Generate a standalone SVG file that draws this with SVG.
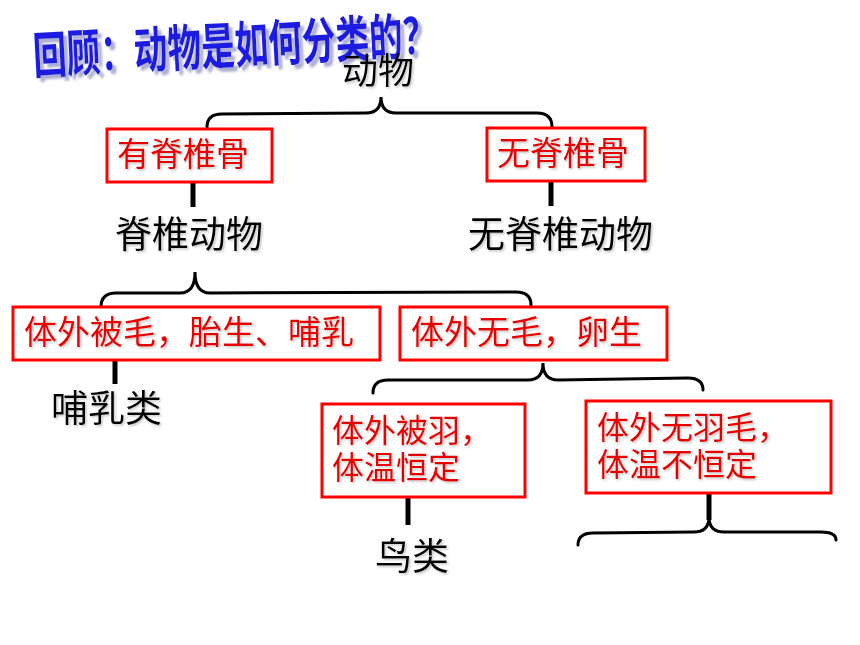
<svg xmlns="http://www.w3.org/2000/svg" width="860" height="645" viewBox="0 0 860 645">
<defs>
<style>
.box{fill:#fff;stroke:#ff0000;stroke-width:3}
.rt{fill:#e60000;font-family:"Noto Sans CJK SC","Noto Sans",sans-serif;font-size:32px}
.bt{fill:#000;font-family:"Noto Sans CJK SC","Noto Sans",sans-serif;font-size:37px}
.stem{stroke:#000;stroke-width:5;fill:none}
.brace{stroke:#000;stroke-width:3;fill:none;stroke-linecap:round}
.title{fill:#1c1ce0;font-family:"Noto Sans CJK SC","Noto Sans",sans-serif;font-weight:bold;font-size:33px}
</style>
<filter id="sh" x="-10%" y="-30%" width="125%" height="170%">
<feDropShadow dx="1.5" dy="1.5" stdDeviation="1" flood-color="#888" flood-opacity="0.5"/>
</filter>
<filter id="tsh" filterUnits="userSpaceOnUse" x="0" y="0" width="860" height="120">
<feDropShadow dx="4" dy="4" stdDeviation="1" flood-color="#9a9ac8" flood-opacity="0.8"/>
</filter>
</defs>
<rect width="860" height="645" fill="#fff"/>

<g id="title" filter="url(#tsh)">
<text class="title" transform="translate(34,74) rotate(-3) scale(1.02,1.52)">回顾：动物是如何分类的？</text>
</g>

<g id="connectors">
<path class="brace" d="M207,127 Q207,114 222,114 L366,113 Q381,113 381,97 Q381,113 396,113 L537,113 Q552,113 552,127"/>
<path class="brace" d="M101,307 Q101,293 116,293 L180,293 Q195,293 195,272 Q195,293 210,293 L516,292 Q531,292 531,305"/>
<path class="brace" d="M373,393 Q373,380 388,380 L528,380 Q543,380 543,363 Q543,380 558,380 L688,378 Q703,378 703,390"/>
<path class="brace" d="M578,545 Q578,533 593,533 L694,532 Q709,532 709,517 Q709,532 724,532 L821,532 Q836,532 836,540"/>
<line class="stem" x1="193" y1="182" x2="193" y2="207"/>
<line class="stem" x1="551" y1="181" x2="551" y2="206"/>
<line class="stem" x1="115" y1="360" x2="115" y2="384"/>
<line class="stem" x1="408" y1="497" x2="408" y2="525"/>
<line class="stem" x1="709" y1="493" x2="709" y2="520"/>
</g>

<g id="n-animal" filter="url(#sh)"><text class="bt" x="342" y="84" style="font-size:36px">动物</text></g>

<g id="n-vert-cond"><rect class="box" x="107" y="129" width="165" height="53"/><text class="rt" x="117" y="166" filter="url(#sh)" style="font-size:33px">有脊椎骨</text></g>
<g id="n-invert-cond"><rect class="box" x="487" y="128" width="158" height="53"/><text class="rt" x="497" y="165" filter="url(#sh)" style="font-size:33px">无脊椎骨</text></g>

<g id="n-vert" filter="url(#sh)"><text class="bt" x="115" y="248">脊椎动物</text></g>
<g id="n-invert" filter="url(#sh)"><text class="bt" x="468" y="248">无脊椎动物</text></g>

<g id="n-fur"><rect class="box" x="13" y="307" width="367" height="53"/><text class="rt" x="24" y="344" filter="url(#sh)" style="font-size:33px">体外被毛，胎生、哺乳</text></g>
<g id="n-nofur"><rect class="box" x="400" y="307" width="267" height="53"/><text class="rt" x="411" y="344" filter="url(#sh)" style="font-size:33px">体外无毛，卵生</text></g>

<g id="n-mammal" filter="url(#sh)"><text class="bt" x="51" y="422">哺乳类</text></g>

<g id="n-feather"><rect class="box" x="322" y="404" width="203" height="93"/><text class="rt" filter="url(#sh)"><tspan x="332" y="442">体外被羽，</tspan><tspan x="332" y="479">体温恒定</tspan></text></g>
<g id="n-nofeather"><rect class="box" x="586" y="401" width="245" height="92"/><text class="rt" filter="url(#sh)"><tspan x="597" y="439">体外无羽毛，</tspan><tspan x="597" y="476">体温不恒定</tspan></text></g>

<g id="n-bird" filter="url(#sh)"><text class="bt" x="375" y="570">鸟类</text></g>
</svg>
